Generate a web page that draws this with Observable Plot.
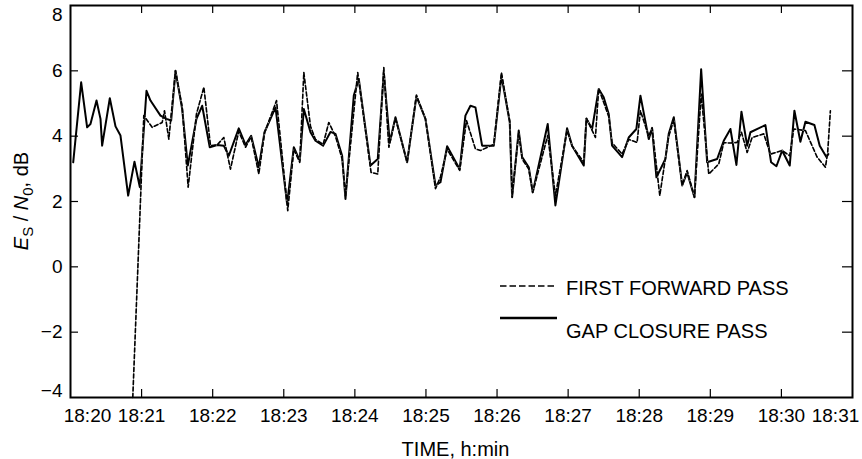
<!DOCTYPE html>
<html><head><meta charset="utf-8">
<script src="https://cdn.jsdelivr.net/npm/d3@7"></script>
<script src="https://cdn.jsdelivr.net/npm/@observablehq/plot@0.6"></script>
<style>body{margin:0;background:#fff;overflow:hidden;}</style>
</head><body>
<script>
// minutes past 18:00
const xTicks = [20,21,22,23,24,25,26,27,28,29,30,31];
const xTickLabels = ["18:20","18:21","18:22","18:23","18:24","18:25","18:26","18:27","18:28","18:29","18:30","18:31"];
const yTicks = [-4,-2,0,2,4,6,8];
const seriesNames = ["FIRST FORWARD PASS","GAP CLOSURE PASS"];
const xTitle = "TIME, h:min";

// FIRST FORWARD PASS (dashed): minutes after 18:20, Es/N0 dB
const forwardTime = [0.876,1.031,1.149,1.29,1.322,1.383,1.477,1.571,1.655,1.772,1.876,1.969,2.063,2.156,2.25,2.367,2.462,2.541,2.649,2.729,2.898,3.056,3.141,3.225,3.282,3.376,3.446,3.554,3.633,3.727,3.821,3.868,4.04,4.228,4.322,4.407,4.478,4.571,4.735,4.866,4.993,5.134,5.204,5.298,5.475,5.57,5.696,5.767,5.954,6.062,6.179,6.212,6.305,6.353,6.446,6.502,6.713,6.821,6.985,7.055,7.22,7.257,7.384,7.43,7.571,7.618,7.759,7.852,7.97,8.017,8.134,8.181,8.289,8.415,8.486,8.604,8.674,8.777,8.871,8.978,9.119,9.189,9.283,9.377,9.438,9.518,9.588,9.752,9.845,10.01,10.117,10.173,10.338,10.502,10.619,10.651,10.689];
const forwardValue = [-4.0,4.63,4.27,4.42,4.78,3.91,6.0,4.9,2.44,4.68,5.5,3.71,3.73,3.96,2.99,4.15,3.66,3.98,2.84,4.1,5.09,1.72,3.6,3.2,5.95,4.3,3.9,3.75,4.42,4.0,3.3,2.18,5.95,2.89,2.84,6.1,3.66,4.55,3.2,5.26,4.53,2.39,2.75,3.6,2.95,4.48,3.61,3.56,3.75,5.95,4.45,2.18,4.1,3.3,2.99,2.28,4.02,2.18,4.17,3.7,3.2,4.55,3.96,5.46,4.6,3.8,3.45,3.9,3.81,4.78,4.0,4.26,2.18,4.0,4.5,2.49,2.95,2.13,5.29,2.84,3.15,3.8,3.79,3.81,4.12,3.5,3.96,4.07,3.45,3.56,3.4,4.22,4.17,3.36,3.05,3.5,4.78];

// GAP CLOSURE PASS (solid)
const gapTime = [0.038,0.15,0.234,0.281,0.366,0.422,0.445,0.553,0.633,0.703,0.811,0.9,0.975,1.069,1.125,1.266,1.35,1.416,1.477,1.571,1.65,1.772,1.852,1.959,2.063,2.156,2.227,2.367,2.462,2.541,2.649,2.729,2.884,3.047,3.141,3.225,3.282,3.376,3.446,3.554,3.657,3.727,3.821,3.868,3.985,4.055,4.22,4.322,4.407,4.491,4.571,4.735,4.866,4.993,5.134,5.204,5.298,5.475,5.555,5.626,5.696,5.79,5.954,6.062,6.179,6.212,6.305,6.353,6.446,6.502,6.713,6.821,6.985,7.055,7.22,7.257,7.337,7.43,7.5,7.571,7.618,7.759,7.852,7.96,8.017,8.134,8.181,8.242,8.368,8.415,8.486,8.604,8.674,8.777,8.871,8.955,9.096,9.189,9.283,9.367,9.438,9.518,9.564,9.775,9.855,9.93,10.01,10.117,10.183,10.267,10.338,10.464,10.539,10.633,10.66];
const gapValue = [3.2,5.65,4.27,4.37,5.09,4.53,3.71,5.16,4.3,4.02,2.18,3.22,2.44,5.39,5.09,4.63,4.53,4.48,6.0,4.83,3.1,4.53,4.93,3.66,3.73,3.71,3.4,4.24,3.73,4.01,3.05,4.12,4.88,1.93,3.66,3.25,4.83,4.12,3.86,3.71,4.13,4.07,3.4,2.08,5.24,5.75,3.1,3.3,5.95,3.81,4.58,3.2,5.22,4.53,2.49,2.59,3.69,2.99,4.63,4.93,4.88,3.71,3.71,5.85,4.42,2.13,4.17,3.36,3.05,2.28,4.37,1.88,4.24,3.71,3.1,4.53,4.22,5.44,5.19,4.68,3.71,3.36,3.96,4.22,5.24,3.91,4.24,2.74,3.3,4.07,4.58,2.49,2.89,2.13,6.05,3.2,3.3,3.86,4.22,3.12,4.75,3.71,4.12,4.34,3.2,3.08,3.56,3.1,4.78,3.83,4.44,4.34,3.71,3.36,3.45];

const forward = forwardTime.map((t, i) => ({t: 20 + t, v: forwardValue[i]}));
const gap = gapTime.map((t, i) => ({t: 20 + t, v: gapValue[i]}));
const fmt = d => xTickLabels[xTicks.indexOf(d)];
const font = "Arial, Helvetica, sans-serif";

const W = 862, H = 459, mL = 70, mR = 10, mT = 5, mB = 62;
const innerW = W - mL - mR, innerH = H - mT - mB;
const xIn = xTicks.slice(1, -1), yIn = yTicks.slice(1, -1);

const plot = Plot.plot({
  width: W, height: H,
  marginLeft: mL, marginRight: mR, marginTop: mT, marginBottom: mB,
  style: {fontFamily: font, fontSize: "19px"},
  x: {domain: [20, 31], label: null, axis: null},
  y: {domain: [-4, 8], label: null, axis: null},
  marks: [
    Plot.line(gap, {x: "t", y: "v", stroke: "#000", strokeWidth: 2}),
    Plot.line(forward, {x: "t", y: "v", stroke: "#b5b5b5", strokeWidth: 1}),
    Plot.line(forward, {x: "t", y: "v", stroke: "#000", strokeWidth: 1.6, strokeDasharray: "4,2.5"}),
    // inward ticks on all four sides, and frame
    Plot.tickX(xIn, {x: d => d, stroke: "#000", strokeWidth: 1.2, insetTop: innerH - 8}),
    Plot.tickX(xIn, {x: d => d, stroke: "#000", strokeWidth: 1.2, insetBottom: innerH - 8}),
    Plot.tickY(yIn, {y: d => d, stroke: "#000", strokeWidth: 1.2, insetRight: innerW - 8}),
    Plot.tickY(yIn, {y: d => d, stroke: "#000", strokeWidth: 1.2, insetLeft: innerW - 10}),
    Plot.frame({stroke: "#000", strokeWidth: 2}),
    // tick labels and title
    Plot.axisX({anchor: "bottom", ticks: xIn, tickSize: 0, tickPadding: 11, tickFormat: fmt, fontSize: 19, label: null}),
    Plot.text([xTicks[0]], {x: d => d, text: d => fmt(d), frameAnchor: "bottom", lineAnchor: "top", dy: 11, dx: 17, fontSize: 19}),
    Plot.text([xTicks[xTicks.length - 1]], {x: d => d, text: d => fmt(d), frameAnchor: "bottom", lineAnchor: "top", dy: 11, dx: -17, fontSize: 19}),
    Plot.axisY({anchor: "left", ticks: yIn, tickSize: 0, tickPadding: 8, fontSize: 19, label: null}),
    Plot.text([yTicks[yTicks.length - 1]], {y: d => d, text: d => String(d), frameAnchor: "left", textAnchor: "end", dx: -8, dy: 9, fontSize: 19}),
    Plot.text([yTicks[0]], {y: d => d, text: d => "\u2212" + Math.abs(d), frameAnchor: "left", textAnchor: "end", dx: -8, dy: -7, fontSize: 19}),
    Plot.text([xTitle], {text: d => d, frameAnchor: "bottom", lineAnchor: "bottom", dy: 58, dx: -6, fontSize: 20})
  ]
});

const svg = d3.select(plot);
// y-axis title with subscripts
const yl = svg.append("text")
  .attr("transform", "translate(28,201) rotate(-90)")
  .attr("text-anchor", "middle")
  .style("font-family", font).style("font-size", "20px").style("fill", "#000");
yl.append("tspan").style("font-style", "italic").text("E");
yl.append("tspan").attr("dy", 5).style("font-size", "15px").text("S");
yl.append("tspan").attr("dy", -5).text(" / ");
yl.append("tspan").style("font-style", "italic").text("N");
yl.append("tspan").attr("dy", 5).style("font-size", "15px").text("0");
yl.append("tspan").attr("dy", -5).text(", dB");

// legend
const lg = svg.append("g").style("font-family", font).style("font-size", "20px").attr("text-anchor", "start");
lg.append("line").attr("x1", 500).attr("x2", 557).attr("y1", 286).attr("y2", 286)
  .attr("stroke", "#000").attr("stroke-width", 1.6).attr("stroke-dasharray", "6.5,3");
lg.append("text").attr("x", 566).attr("y", 295).style("fill", "#000").text(seriesNames[0]);
lg.append("line").attr("x1", 500).attr("x2", 557).attr("y1", 318).attr("y2", 318)
  .attr("stroke", "#000").attr("stroke-width", 2.6);
lg.append("text").attr("x", 566).attr("y", 338).style("fill", "#000").text(seriesNames[1]);

document.body.appendChild(plot);
</script></body></html>
